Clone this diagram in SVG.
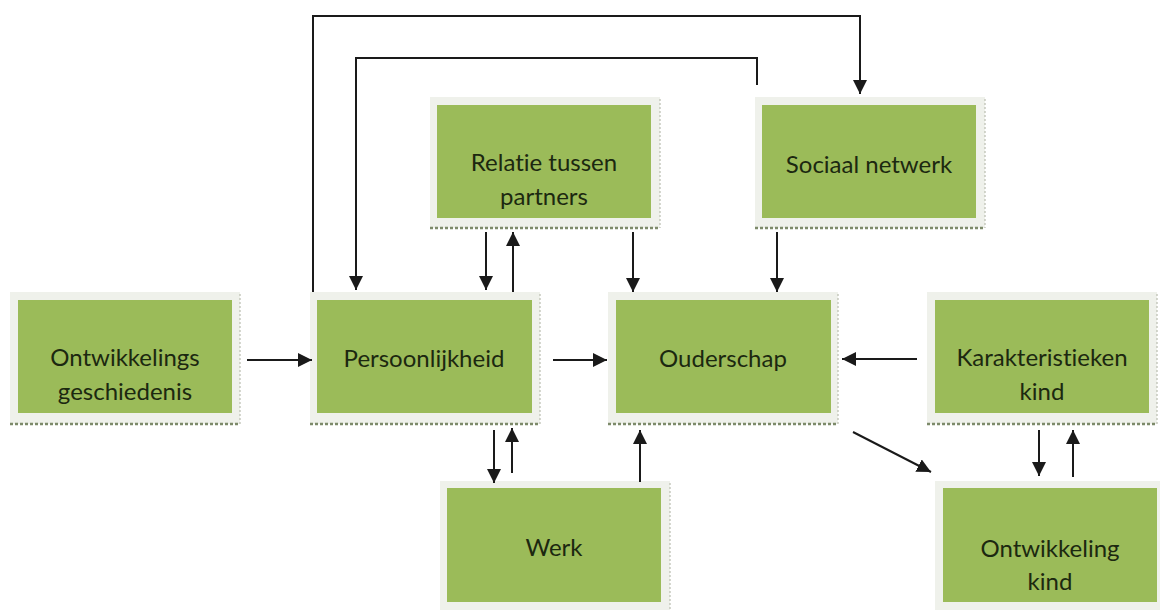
<svg xmlns="http://www.w3.org/2000/svg" width="1160" height="610" viewBox="0 0 1160 610">
<defs>
<marker id="ah" markerUnits="userSpaceOnUse" markerWidth="16" markerHeight="16" refX="14" refY="7" orient="auto">
<path d="M0,0 L14,7 L0,14 z" fill="#1a1a1a"/>
</marker>
<style>
.frame{fill:#eff1eb;}
.inner{fill:#9bbb59;}
.dash{stroke:#7d8a6a;stroke-width:2.5;stroke-dasharray:3 2;fill:none;}
.dot{stroke:#b9bdb0;stroke-width:1.2;stroke-dasharray:2 2;fill:none;}
.lbl{font-family:Lato,"Noto Sans",sans-serif;font-size:24px;fill:#1c2810;text-anchor:middle;font-variant-ligatures:none;}
.conn{stroke:#1a1a1a;stroke-width:2;fill:none;}
.arr{marker-end:url(#ah);}
</style>
</defs>
<rect width="1160" height="610" fill="#ffffff"/>

<g id="node-ontwikkelingsgeschiedenis">
<rect class="frame" x="10" y="292" width="230" height="132"/>
<rect class="inner" x="18" y="300" width="214" height="113"/>
<line class="dash" x1="10" y1="424" x2="240" y2="424"/>
<line class="dot" x1="240" y1="294" x2="240" y2="424"/>
<text class="lbl" x="125" y="366">Ontwikkelings</text>
<text class="lbl" x="125" y="400">geschiedenis</text>
</g>

<g id="node-persoonlijkheid">
<rect class="frame" x="310" y="292" width="230" height="132"/>
<rect class="inner" x="317" y="300" width="215" height="113"/>
<line class="dash" x1="310" y1="424" x2="540" y2="424"/>
<line class="dot" x1="540" y1="294" x2="540" y2="424"/>
<text class="lbl" x="424" y="367">Persoonlijkheid</text>
</g>

<g id="node-ouderschap">
<rect class="frame" x="608" y="292" width="230" height="132"/>
<rect class="inner" x="616" y="300" width="215" height="113"/>
<line class="dash" x1="608" y1="424" x2="838" y2="424"/>
<line class="dot" x1="838" y1="294" x2="838" y2="424"/>
<text class="lbl" x="723" y="367">Ouderschap</text>
</g>

<g id="node-karakteristieken">
<rect class="frame" x="927" y="292" width="230" height="132"/>
<rect class="inner" x="935" y="300" width="214" height="113"/>
<line class="dash" x1="927" y1="424" x2="1157" y2="424"/>
<line class="dot" x1="1157" y1="294" x2="1157" y2="424"/>
<text class="lbl" x="1042" y="366">Karakteristieken</text>
<text class="lbl" x="1042" y="400">kind</text>
</g>

<g id="node-relatie">
<rect class="frame" x="430" y="97" width="230" height="131"/>
<rect class="inner" x="437" y="105" width="214" height="113"/>
<line class="dash" x1="430" y1="228" x2="660" y2="228"/>
<line class="dot" x1="660" y1="99" x2="660" y2="228"/>
<text class="lbl" x="544" y="171">Relatie tussen</text>
<text class="lbl" x="544" y="205">partners</text>
</g>

<g id="node-sociaal">
<rect class="frame" x="755" y="97" width="230" height="131"/>
<rect class="inner" x="762" y="105" width="214" height="113"/>
<line class="dash" x1="755" y1="228" x2="985" y2="228"/>
<line class="dot" x1="985" y1="99" x2="985" y2="228"/>
<text class="lbl" x="869" y="173">Sociaal netwerk</text>
</g>

<g id="node-werk">
<rect class="frame" x="440" y="481" width="230" height="129"/>
<rect class="inner" x="447" y="488" width="214" height="114"/>
<line class="dot" x1="670" y1="483" x2="670" y2="610"/>
<text class="lbl" x="554" y="556">Werk</text>
</g>

<g id="node-ontwikkeling-kind">
<rect class="frame" x="935" y="481" width="225" height="129"/>
<rect class="inner" x="943" y="488" width="214" height="114"/>
<text class="lbl" x="1050" y="557">Ontwikkeling</text>
<text class="lbl" x="1050" y="590">kind</text>
</g>

<g id="connectors">
<path class="conn arr" d="M247,360 H312"/>
<path class="conn arr" d="M553,360 H607"/>
<path class="conn arr" d="M917,359 H842"/>
<path class="conn arr" d="M486,232 V290"/>
<path class="conn arr" d="M513,292 V232"/>
<path class="conn arr" d="M633,232 V292"/>
<path class="conn arr" d="M777,232 V292"/>
<path class="conn arr" d="M494,430 V483"/>
<path class="conn arr" d="M512,473 V428"/>
<path class="conn arr" d="M640,482 V430"/>
<path class="conn arr" d="M1039,430 V476"/>
<path class="conn arr" d="M1073,477 V430"/>
<path class="conn arr" d="M853,432 L931,472"/>
<path class="conn arr" d="M313,292 V16 H860 V94"/>
<path class="conn arr" d="M757,85 V58 H356 V290"/>
</g>
</svg>
